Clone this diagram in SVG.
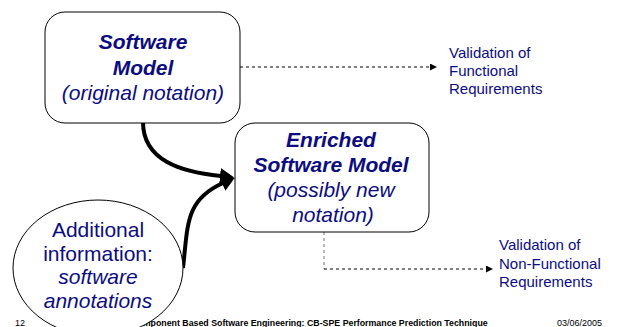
<svg xmlns="http://www.w3.org/2000/svg" width="620" height="327" viewBox="0 0 620 327">
  <style>
    .box { fill: #ffffff; stroke: #000000; stroke-width: 1; }
    .t { font-family: "Liberation Sans", Arial, sans-serif; fill: #0c0c80; text-anchor: middle; }
    .big { font-size: 21px; }
    .bi { font-weight: bold; font-style: italic; }
    .it { font-style: italic; }
    .lbl { font-family: "Liberation Sans", Arial, sans-serif; font-size: 15px; fill: #0c0c80; }
    .foot { font-family: "Liberation Sans", Arial, sans-serif; fill: #000000; }
    .thick { fill: none; stroke: #000000; stroke-width: 4; }
    .dash { fill: none; stroke: #000000; stroke-width: 1; stroke-dasharray: 3 3; }
  </style>
  <defs>
    <marker id="bighead" markerUnits="userSpaceOnUse" markerWidth="16" markerHeight="18" refX="1" refY="8" orient="auto">
      <path d="M0,0 L14,8 L0,16 z" fill="#000000"/>
    </marker>
    <marker id="smallhead" markerUnits="userSpaceOnUse" markerWidth="8" markerHeight="8" refX="0" refY="3.5" orient="auto">
      <path d="M0,0 L7,3.5 L0,7 z" fill="#000000"/>
    </marker>
  </defs>

  <rect width="620" height="327" fill="#ffffff"/>

  <!-- footer line, partly hidden behind the ellipse -->
  <g id="footer">
    <text class="foot" x="15" y="326" font-size="9">12</text>
    <text class="foot" x="131" y="326" font-size="8.8" font-weight="bold">Component Based Software Engineering: CB-SPE Performance Prediction Technique</text>
    <text class="foot" x="557" y="326" font-size="9">03/06/2005</text>
  </g>

  <!-- connectors -->
  <g id="connectors">
    <path class="thick" d="M143,122 C143,160 180,172 221,176" marker-end="url(#bighead)"/>
    <path class="thick" d="M183,268 C188,225 185,200 223,183" marker-end="url(#bighead)"/>
    <path class="dash" d="M240,67 H430" marker-end="url(#smallhead)"/>
    <path class="dash" d="M324,232 V269" style="stroke:#777777"/>
    <path class="dash" d="M324,269 H486" marker-end="url(#smallhead)"/>
  </g>

  <!-- nodes -->
  <g id="software-model">
    <rect class="box" x="45" y="12" width="195" height="111" rx="20" ry="20"/>
    <text class="t big bi" x="143" y="49">Software</text>
    <text class="t big bi" x="143" y="75">Model</text>
    <text class="t big it" x="143" y="100">(original notation)</text>
  </g>

  <g id="enriched-model">
    <rect class="box" x="235" y="123" width="194" height="109" rx="20" ry="20"/>
    <text class="t big bi" x="331" y="147">Enriched</text>
    <text class="t big bi" x="331" y="172">Software Model</text>
    <text class="t big it" x="331" y="197">(possibly new</text>
    <text class="t big it" x="333" y="222">notation)</text>
  </g>

  <g id="additional-info">
    <ellipse class="box" cx="98" cy="268" rx="85" ry="68"/>
    <text class="t big" x="98" y="237">Additional</text>
    <text class="t big" x="98" y="261">information:</text>
    <text class="t big it" x="98" y="284">software</text>
    <text class="t big it" x="98" y="308">annotations</text>
  </g>

  <g id="functional-validation">
    <text class="lbl" x="449" y="57.5">Validation of</text>
    <text class="lbl" x="449" y="75.5">Functional</text>
    <text class="lbl" x="449" y="93.5">Requirements</text>
  </g>

  <g id="nonfunctional-validation">
    <text class="lbl" x="499" y="250">Validation of</text>
    <text class="lbl" x="499" y="268.5">Non-Functional</text>
    <text class="lbl" x="499" y="287">Requirements</text>
  </g>
</svg>
